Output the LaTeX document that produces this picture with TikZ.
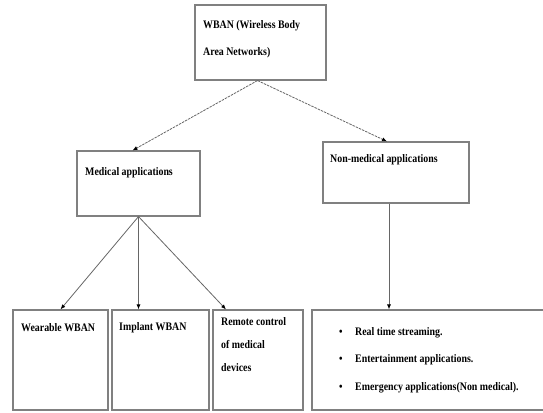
\documentclass[tikz,border=0pt]{standalone}
\usepackage{fontspec}
\setmainfont{Liberation Serif}
\newfontfamily\narrowserif[FakeStretch=0.86]{Liberation Serif}
\usetikzlibrary{arrows.meta}
\definecolor{boxgray}{gray}{0.5}
\definecolor{linegray}{gray}{0.4}
\newcommand{\itm}{\makebox[16pt][l]{\textbullet}}
\tikzset{
  box/.style={draw=boxgray, line width=1.1pt, inner sep=0pt},
  lbl/.style={inner sep=0pt, align=left, font=\narrowserif\bfseries\fontsize{11.5}{12}\selectfont},
  link/.style={draw=linegray, line width=0.8pt, -{Latex[length=5pt,width=4pt,color=black]}}
}

\begin{document}
\begin{tikzpicture}[x=1pt,y=-1pt]
  \useasboundingbox (0,0) rectangle (543,412);
  % boxes
  \node[box, minimum width=131pt, minimum height=75pt] (wban) at (260.5,42.5) {};
  \node[box, minimum width=123pt, minimum height=65pt] (med) at (138.5,183.5) {};
  \node[box, minimum width=146pt, minimum height=61pt] (nonmed) at (396,172.5) {};
  \node[box, minimum width=95pt, minimum height=100pt] (wear) at (60.5,360) {};
  \node[box, minimum width=97pt, minimum height=100pt] (impl) at (160.5,360) {};
  \node[box, minimum width=90pt, minimum height=100pt] (remote) at (258,360) {};
  \node[box, minimum width=236pt, minimum height=100pt] (list) at (430,360) {};
  % texts
  \node[lbl, anchor=north west, font=\narrowserif\bfseries\fontsize{11.5}{27}\selectfont] (wbantxt) at (203,20)
    {WBAN (Wireless Body\\Area Networks)};
  \node[lbl, anchor=west] (medtxt) at (85,173) {Medical applications};
  \node[lbl, anchor=west] (nonmedtxt) at (330,160) {Non-medical applications};
  \node[lbl, anchor=west] (weartxt) at (21,328) {Wearable WBAN};
  \node[lbl, anchor=west] (impltxt) at (119,328) {Implant WBAN};
  \node[lbl, anchor=north west, font=\narrowserif\bfseries\fontsize{11.5}{23}\selectfont] (remotetxt) at (221,317)
    {Remote control\\of medical\\devices};
  \node[lbl, anchor=north west, font=\narrowserif\bfseries\fontsize{11.5}{27.5}\selectfont] (listtxt) at (339,327)
    {\itm Real time streaming.\\\itm Entertainment applications.\\\itm Emergency applications(Non medical).};
  % connectors
  \draw[link, dash pattern=on 2.5pt off 1pt] ([xshift=-3pt]wban.south) -- ([xshift=-6pt]med.north);
  \draw[link, dash pattern=on 2.5pt off 1pt] ([xshift=-3pt]wban.south) -- ([xshift=-9pt]nonmed.north);
  \draw[link] (med.south) -- (wear.north);
  \draw[link] (med.south) -- (med.south |- impl.north);
  \draw[link] (med.south) -- ([xshift=-32pt]remote.north);
  \draw[link] ([xshift=-7pt]nonmed.south) -- ([xshift=-7pt]nonmed.south |- list.north);
\end{tikzpicture}
\end{document}
